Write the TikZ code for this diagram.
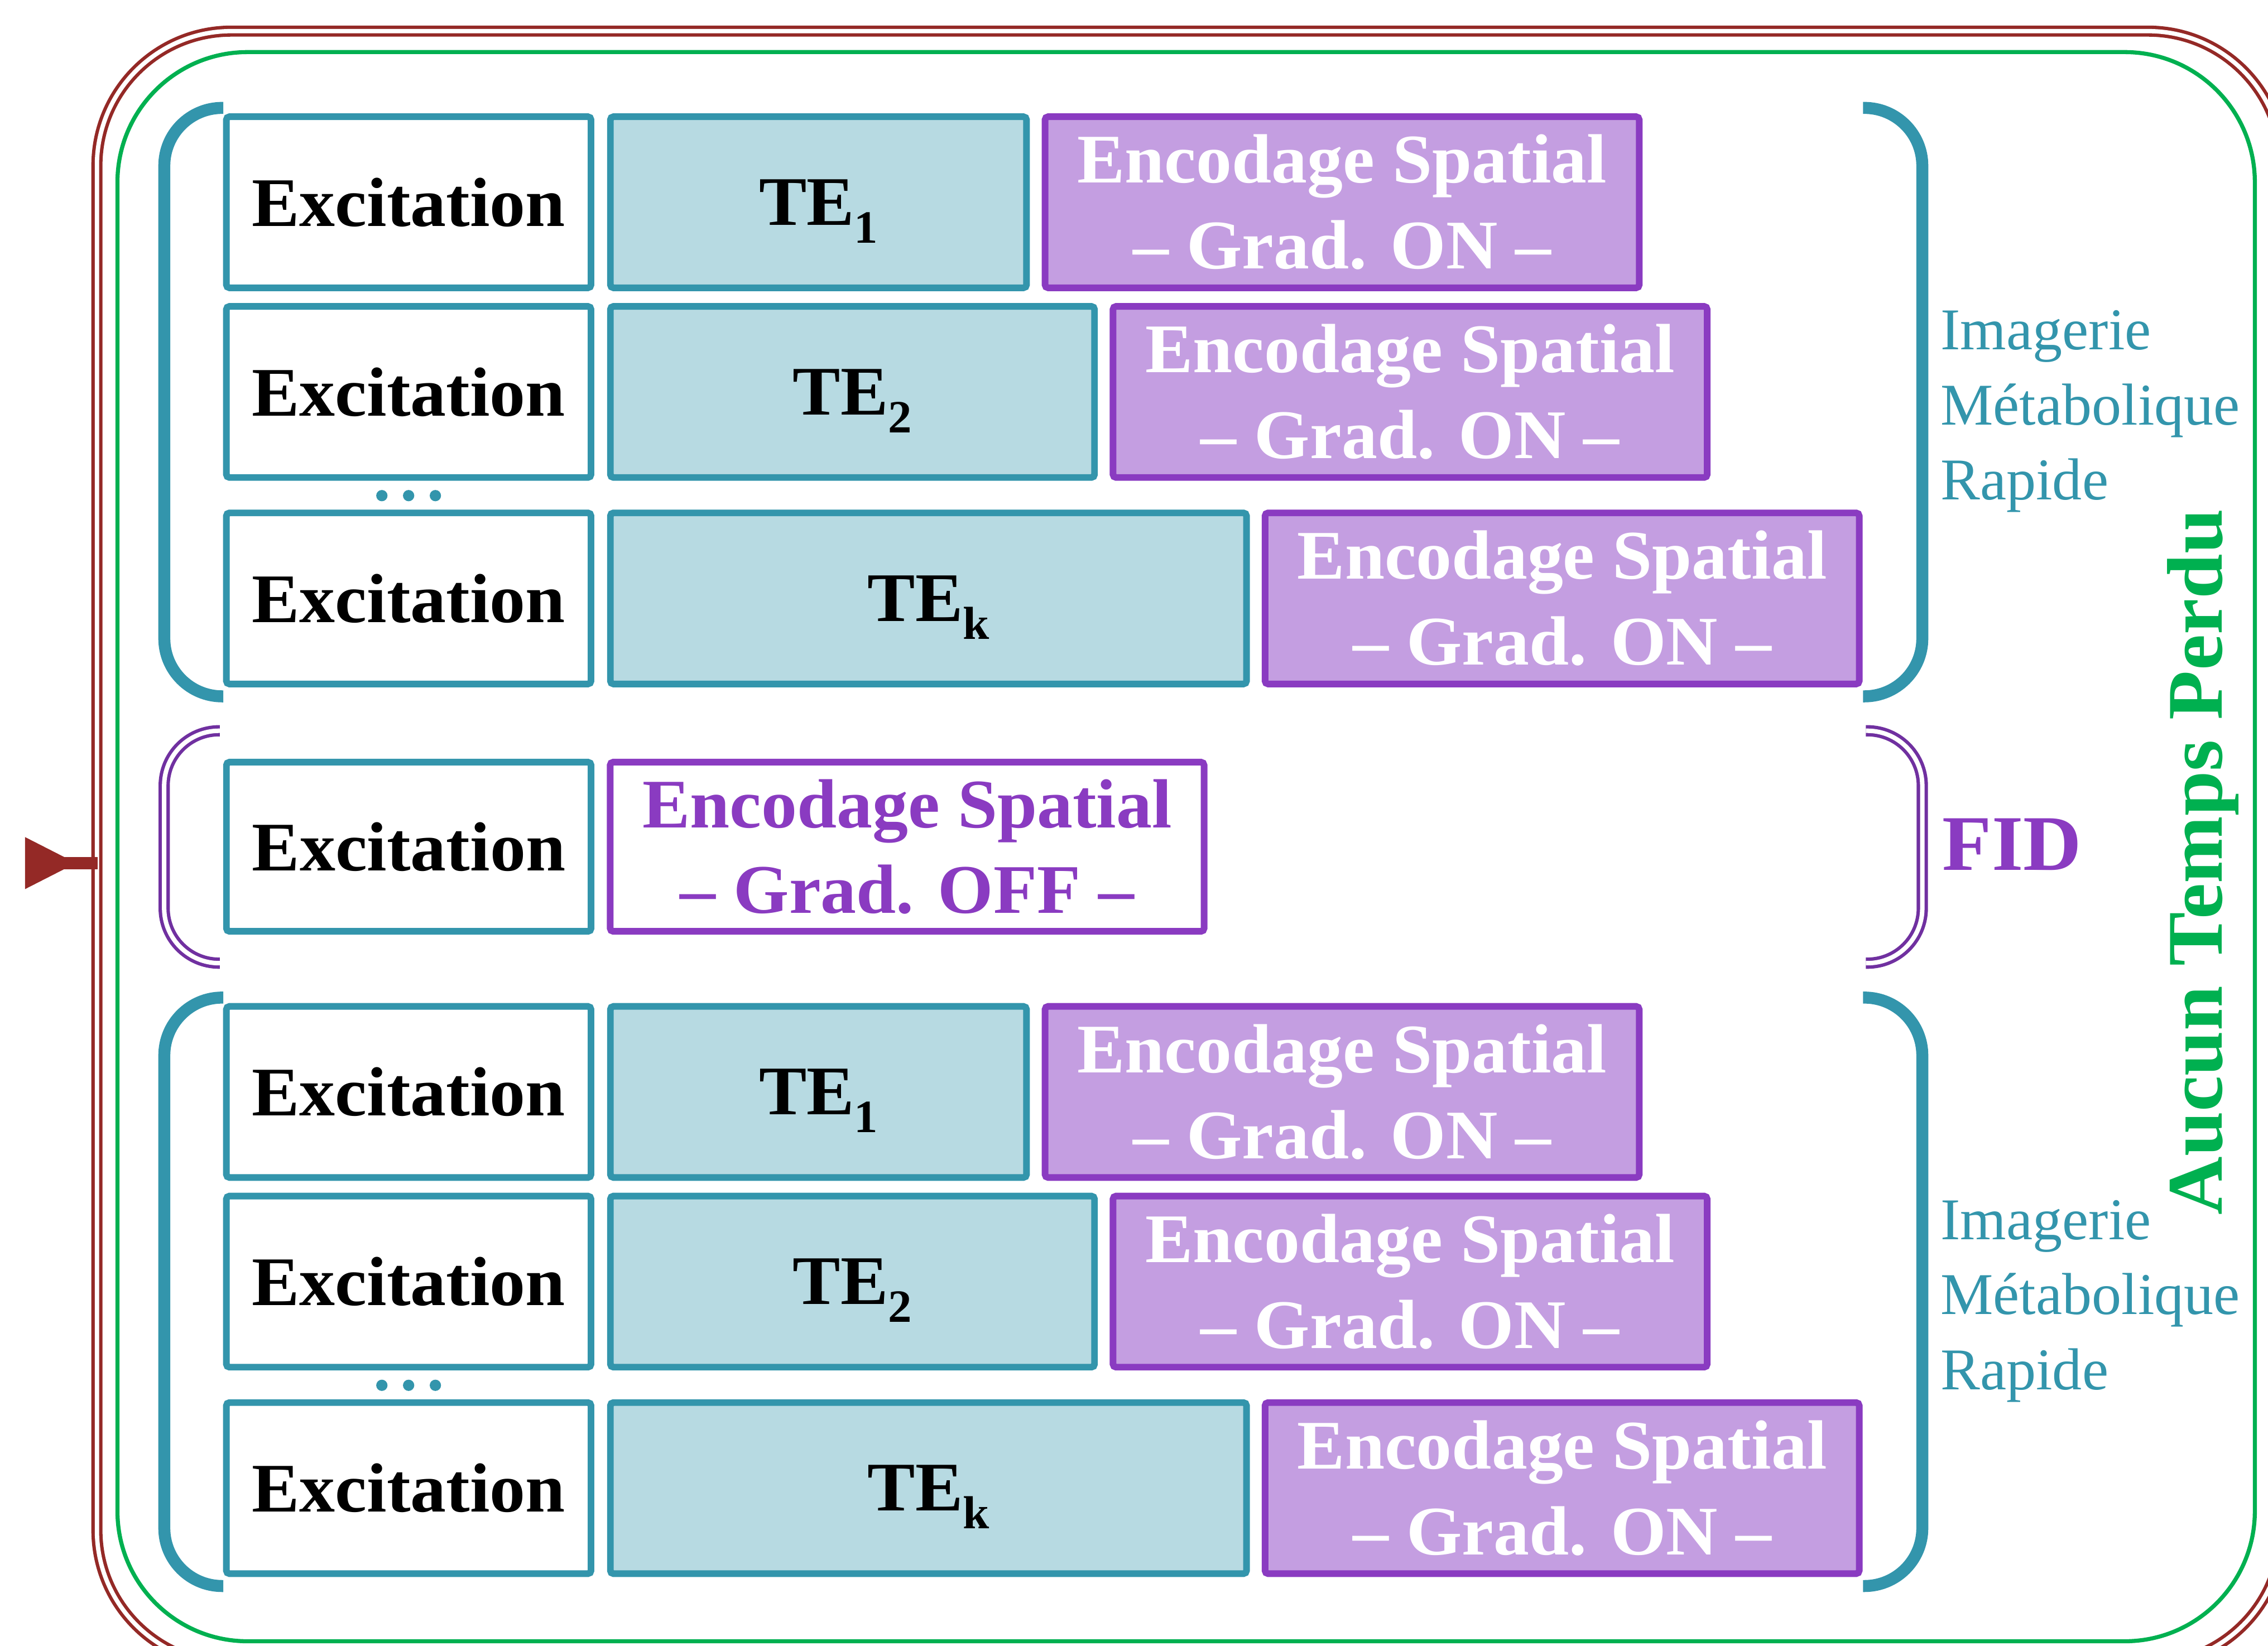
\documentclass[tikz,border=0pt]{standalone}
\usepackage{fontspec}
\setmainfont{Liberation Serif}[BoldFeatures={FakeStretch=1.025}]
\usetikzlibrary{positioning}
\definecolor{mriTeal}{RGB}{51,149,172}
\definecolor{mriLight}{RGB}{183,218,226}
\definecolor{encViolet}{RGB}{138,59,193}
\definecolor{encLight}{RGB}{196,158,225}
\definecolor{fidPurple}{RGB}{112,48,160}
\definecolor{timeGreen}{RGB}{0,176,80}
\definecolor{loopRed}{RGB}{148,41,38}
\newcommand\tesub[1]{\raisebox{-3.5pt}[0pt][0pt]{\fontsize{9.1}{10}\selectfont #1}}
\tikzset{
	stepbase/.style={line width=1.31pt, rounded corners=0.6pt, outer sep=0pt, inner sep=0pt,
		minimum height=11.83mm, align=center, font=\bfseries\fontsize{13.7}{16.9}\selectfont},
	excbox/.style={stepbase, draw=mriTeal, fill=white, minimum width=25.21mm},
	tebox/.style={stepbase, draw=mriTeal, fill=mriLight},
	encbox/.style={stepbase, draw=encViolet, fill=encLight, text=white, minimum width=41.08mm},
	offbox/.style={stepbase, draw=encViolet, fill=white, text=encViolet, minimum width=41.06mm, minimum height=11.7mm},
	mribrace/.style={draw=mriTeal, line width=2.36pt, rounded corners=4mm},
	fidbrace/.style={draw=fidPurple, double, line width=0.67pt, double distance=0.88pt, rounded corners=3.8mm},
	imgtext/.style={anchor=base west, inner sep=0pt, text=mriTeal, font=\fontsize{11.65}{14}\selectfont},
	fidtext/.style={anchor=base west, inner sep=0pt, text=encViolet, font=\bfseries\fontsize{15.5}{18}\selectfont},
	timetext/.style={rotate=90, anchor=base, inner sep=0pt, text=timeGreen, font=\bfseries\fontsize{15.5}{18}\selectfont}
}
\begin{document}
\begin{tikzpicture}[x=0.1mm,y=-0.1mm]
	\useasboundingbox (0,0) rectangle (1568,1138);
	\clip (0,0) rectangle (1568,1138);
	\draw[loopRed, double, line width=0.67pt, double distance=0.85pt, rounded corners=9.3mm]
		(67,21.5) rectangle (1578,1151);
	\draw[timeGreen, line width=0.8pt, rounded corners=9mm] (81.2,36) rectangle (1558.9,1134.9);
	\coordinate (loopin) at (67.5,596.8);
	\coordinate (loopout) at (17.3,596.8);
	\draw[loopRed, line width=2.39pt] (loopin) -- (loopout);
	\fill[loopRed] (loopout) ++(0,-18) -- ++(35.3,18) -- ++(-35.3,18) -- cycle;

	\foreach \g/\dy in {a/0,b/615.2}{
		\foreach \r/\yc/\tw/\s in {1/139.85/28.77/1,2/271/33.47/2,3/413.8/43.98/k}{
			\node[excbox] (exc-\g\r) at (282.55,\yc+\dy) {Excitation};
			\node[tebox, minimum width=\tw mm, right=1.34mm of exc-\g\r] (te-\g\r) {TE\tesub{\s}};
			\node[encbox, right=1.28mm of te-\g\r] (enc-\g\r) {Encodage Spatial\\-- Grad. ON --};
		}
		\foreach \xd in {264,282.5,301}
			\fill[mriTeal] (\xd,342.7+\dy) circle[radius=0.39mm];
		\draw[mribrace] (154.4,74.6+\dy) -- (113.6,74.6+\dy) -- (113.6,481.5+\dy) -- (154.4,481.5+\dy);
		\draw[mribrace] (1288,74.6+\dy) -- (1329,74.6+\dy) -- (1329,481.5+\dy) -- (1288,481.5+\dy);
		\foreach \w/\yb [count=\i] in {Imagerie/241.8,Métabolique/293.7,Rapide/345.6}
			\node[imgtext] (img-\g\i) at (1341,\yb+\dy) {\w};
	}

	\node[excbox, minimum height=11.7mm] (exc-fid) at (282.6,585.5) {Excitation};
	\node[offbox, right=1.32mm of exc-fid] (enc-fid) {Encodage Spatial\\-- Grad. OFF --};
	\draw[fidbrace] (152,505.3) -- (113.5,505.3) -- (113.5,666) -- (152,666);
	\draw[fidbrace] (1290,505.3) -- (1329,505.3) -- (1329,666) -- (1290,666);
	\node[fidtext] (fid) at (1342.3,601.5) {FID};
	\node[timetext] (aucun) at (1536.3,596) {Aucun Temps Perdu};
\end{tikzpicture}
\end{document}
